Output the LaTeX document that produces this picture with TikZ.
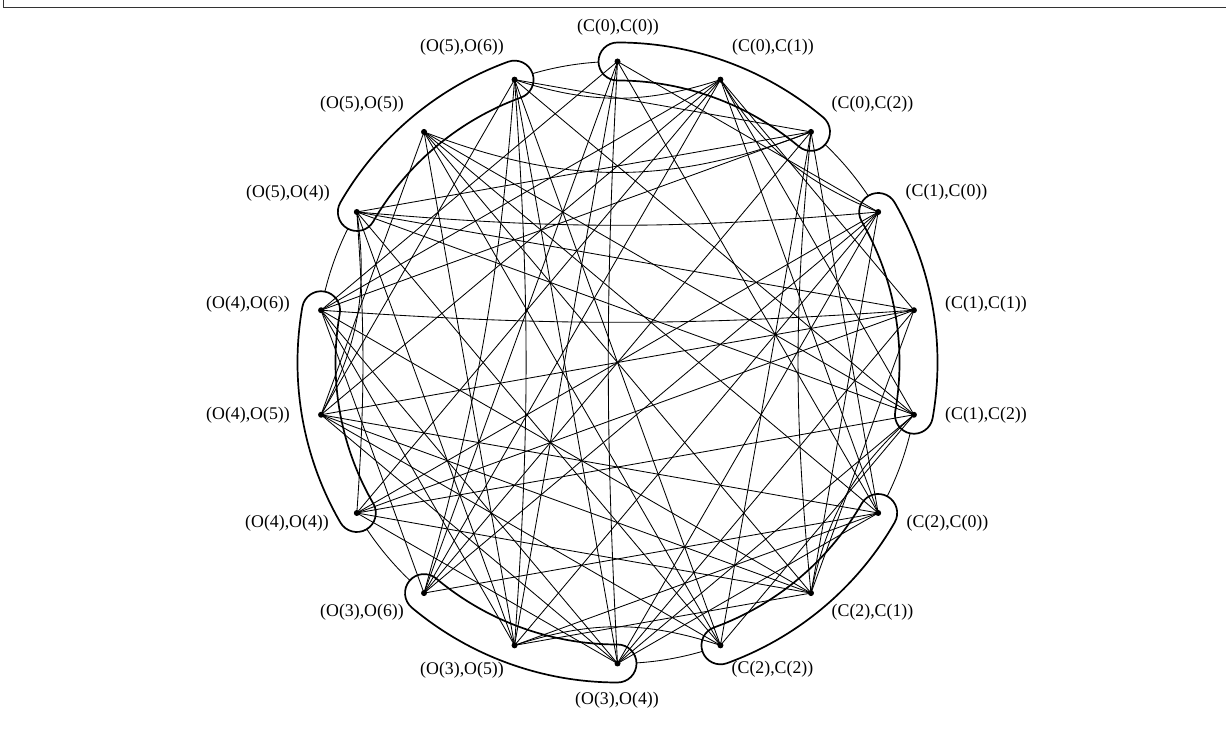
\documentclass[tikz,border=0pt]{standalone}
\usepackage{fontspec}
\setmainfont{Liberation Serif}
\begin{document}
\begin{tikzpicture}[x=1pt,y=1pt,
  dot/.style={circle,fill=black,inner sep=0pt,minimum size=6pt},
  lab/.style={font=\fontsize{17.8}{20}\selectfont,inner sep=0pt},
  edge/.style={line width=0.85pt},
  band/.style={line width=1.7pt,fill=white},
  frameline/.style={line width=1.4pt,black!80}]
\useasboundingbox (0,0) rectangle (1226,749);
\coordinate (ctr) at (617.5,386.5);
% frame
\coordinate (fa) at (3.3,749);
\coordinate (fb) at (3.3,741.7);
\coordinate (fc) at (1226,741.7);
\draw[frameline] (fa) -- (fb) -- (fc);
% underlying circle
\draw[edge] (ctr) circle[radius=301pt];
% bands (hyperedges)
\foreach \g in {0,3,...,15}{
  \pgfmathsetmacro\ta{90-20*\g}
  \pgfmathsetmacro\tb{\ta-40}
  \draw[band] ([shift={(ctr)}]\ta:320pt) arc[start angle=\ta, end angle=\tb, radius=320pt]
    arc[start angle=\tb, end angle=\tb-180, radius=19pt]
    arc[start angle=\tb, end angle=\ta, radius=282pt]
    arc[start angle=\ta+180, end angle=\ta, radius=19pt] -- cycle;
}
% vertices
\foreach \k in {0,...,17}{
  \pgfmathsetmacro\ang{90-20*\k}
  \coordinate (n\k) at ([shift={(ctr)}]\ang:301pt);
}
% straight edges
\foreach \a/\b in {0/10,0/11,0/3,3/9,3/10,3/11,0/6,1/6,2/6,6/9,6/10,6/11,
  1/11,2/11,0/14,1/14,2/14,9/14,10/14,11/14,2/17,9/17,
  1/4,1/5,1/12,1/13,4/12,4/13,3/7,4/7,7/12,7/13,7/14,4/9,5/9,9/12,9/13,
  3/12,5/12,4/15,5/15,
  2/8,2/15,5/8,5/16,5/17,8/15,8/16,8/17,7/10,10/15,10/16,6/13,8/13,13/16,13/17,
  6/16,7/16}
  \draw[edge] (n\a) -- (n\b);
% curved edges (a clockwise to b, bent towards the centre)
\foreach \a/\b/\c in {1/3/18,17/1/18,5/7/18,8/10/18,13/15/18,16/2/21,
  2/7/5.5,15/3/5,12/15/4,11/17/5.6,14/4/4,10/17/4,0/9/3}
  \draw[edge] (n\a) to[bend right=\c] (n\b);
% vertex dots
\foreach \k in {0,...,17}{
  \node[dot] (v\k) at (n\k) {};
}
% labels
\node[lab] (l0) at (618,722) {(C(0),C(0))};
\node[lab] (l1) at (773,702) {(C(0),C(1))};
\node[lab] (l2) at (872.5,645) {(C(0),C(2))};
\node[lab] (l3) at (946.5,556.5) {(C(1),C(0))};
\node[lab] (l4) at (986,445) {(C(1),C(1))};
\node[lab] (l5) at (986,334) {(C(1),C(2))};
\node[lab] (l6) at (947.5,226) {(C(2),C(0))};
\node[lab] (l7) at (872.5,137) {(C(2),C(1))};
\node[lab] (l8) at (772.5,80) {(C(2),C(2))};
\node[lab] (l9) at (617,49) {(O(3),O(4))};
\node[lab] (l10) at (462,79) {(O(3),O(5))};
\node[lab] (l11) at (362,136.5) {(O(3),O(6))};
\node[lab] (l12) at (287,226) {(O(4),O(4))};
\node[lab] (l13) at (248,334) {(O(4),O(5))};
\node[lab] (l14) at (248,445) {(O(4),O(6))};
\node[lab] (l15) at (288,556) {(O(5),O(4))};
\node[lab] (l16) at (362,645) {(O(5),O(5))};
\node[lab] (l17) at (462,702) {(O(5),O(6))};
\end{tikzpicture}
\end{document}
